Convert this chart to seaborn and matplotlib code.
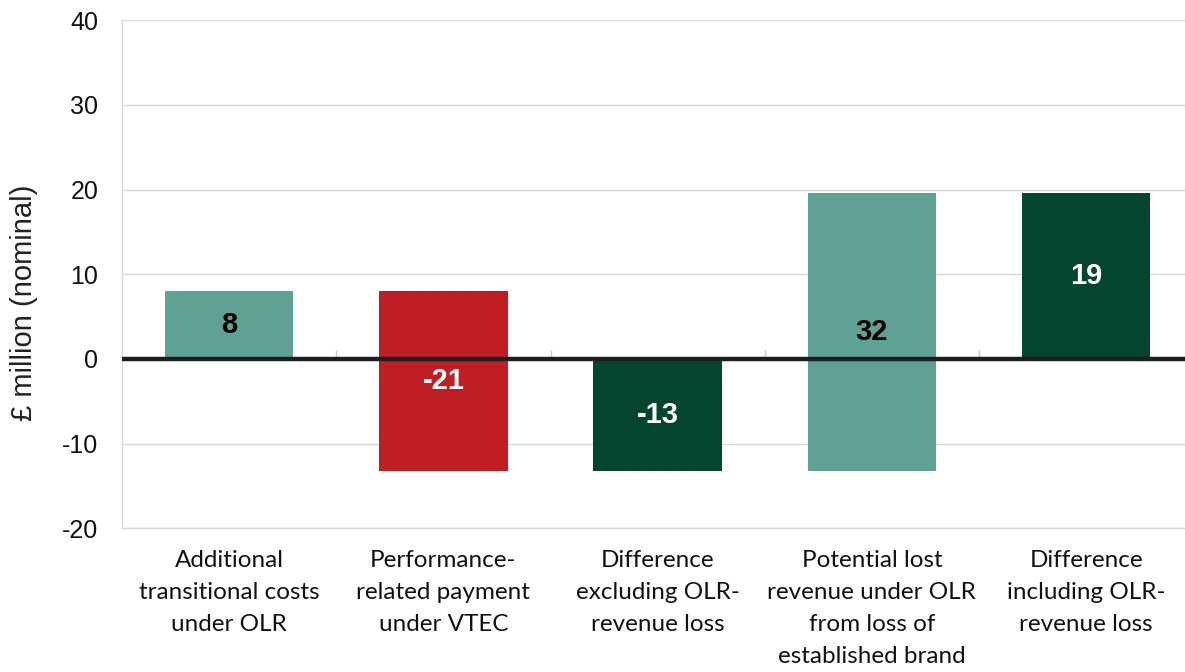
"""Waterfall of OLR vs VTEC costs, drawn with seaborn bars."""

import numpy as np
import seaborn as sns
import matplotlib.pyplot as plt

# categories (x tick labels)
categories = [
    'Additional\ntransitional costs\nunder OLR',
    'Performance-\nrelated payment\nunder VTEC',
    'Difference\nexcluding OLR-\nrevenue loss',
    'Potential lost\nrevenue under OLR\nfrom loss of\nestablished brand',
    'Difference\nincluding OLR-\nrevenue loss',
]
# where each bar starts and ends (£ million)
bar_start = [0, 8.0, 0, -13.2, 0]
bar_end = [8.0, -13.2, -13.2, 19.6, 19.6]
# the printed values
value_labels = ['8', '-21', '-13', '32', '19']
bar_colors = ['#5fa294', '#be1e24', '#03452f', '#5fa294', '#03452f']
label_colors = ['black', 'white', 'white', 'black', 'white']

heights = np.array(bar_end) - np.array(bar_start)

sns.set_style('white')
plt.rcParams['font.family'] = ['Liberation Sans', 'DejaVu Sans']
plt.rcParams['axes.unicode_minus'] = False

fig = plt.figure(figsize=(11.85, 6.72), dpi=100)
# axes runs a little past the right edge of the picture, as in the original
ax = fig.add_axes([0.103, 0.214, 0.904, 0.756])

# floating bars: height from start, seaborn passes bottom on to matplotlib
sns.barplot(x=categories, y=heights, bottom=bar_start, width=0.6,
            color=bar_colors[0], saturation=1, errorbar=None, ax=ax, zorder=2)
for bar, colour in zip(ax.patches, bar_colors):
    bar.set_facecolor(colour)
    bar.set_edgecolor('none')

# value labels in the middle of each bar
for i, bar in enumerate(ax.patches):
    x = bar.get_x() + bar.get_width() / 2
    y = bar.get_y() + bar.get_height() / 2
    ax.text(x, y, value_labels[i], ha='center', va='center',
            color=label_colors[i], fontsize=21, fontweight='bold', zorder=4)

# zero line and little category separators
ax.axhline(0, color='#1c1e20', lw=3.2, zorder=3)
ax.vlines(np.arange(len(categories) - 1) + 0.5, 0, 1.0, color='#c8c8c8',
          lw=1, zorder=1)

ax.set_ylim(-20, 40)
ax.set_xlim(-0.5, len(categories) - 0.5)
ax.set_yticks(range(-20, 41, 10))
ax.yaxis.grid(True, color='#d9d9d9', lw=1)
ax.set_axisbelow(True)
ax.tick_params(axis='y', length=0, pad=17, labelsize=18, labelcolor='#111111')
ax.tick_params(axis='x', length=0, pad=16)
for lab in ax.get_xticklabels():
    lab.set_family(['Lato', 'DejaVu Sans'])
    lab.set_fontsize(17.5)
    lab.set_linespacing(1.64)
    lab.set_verticalalignment('top')
    lab.set_color('#111111')

ax.set_ylabel('£ million (nominal)', fontsize=21, color='#222222')
ax.yaxis.set_label_coords(-0.078, 0.443)

for side in ['top', 'right']:
    ax.spines[side].set_visible(False)
for side in ['left', 'bottom']:
    ax.spines[side].set_color('#d9d9d9')
    ax.spines[side].set_linewidth(1)

fig.savefig('out.png', dpi=100)
